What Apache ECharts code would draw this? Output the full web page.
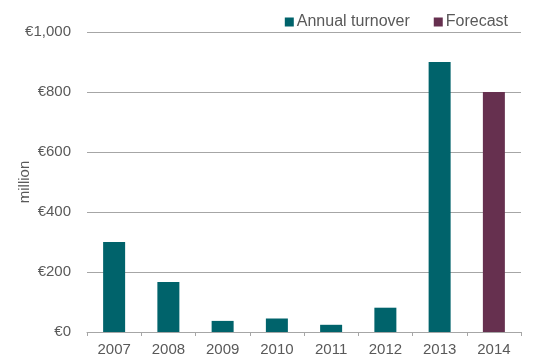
<!DOCTYPE html>
<html>
<head>
<meta charset="utf-8">
<script src="https://cdn.jsdelivr.net/npm/echarts@6/dist/echarts.min.js"></script>
<style>
  html, body { margin: 0; padding: 0; background: #fff; }
  #chart { width: 534px; height: 361px; }
</style>
</head>
<body>
<div id="chart"></div>
<script>
// Annual turnover (million €) by year, with a forecast for the last year
const years = ['2007', '2008', '2009', '2010', '2011', '2012', '2013', '2014'];
const turnover = [300, 167, 37, 45, 24, 81, 900, null];
const forecast = [null, null, null, null, null, null, null, 800];
const yTicks = [0, 200, 400, 600, 800, 1000];

const textColor = '#595959';
const fontFamily = '"Liberation Sans", Arial, Helvetica, sans-serif';

const chart = echarts.init(document.getElementById('chart'), null, { renderer: 'canvas' });
chart.setOption({
  animation: false,
  textStyle: { fontFamily: fontFamily, color: textColor },
  legend: {
    right: 21,
    top: 9,
    itemWidth: 9,
    itemHeight: 9,
    itemGap: 24,
    icon: 'rect',
    textStyle: { fontSize: 16, color: textColor, fontFamily: fontFamily, padding: [0, 0, 0, -2] },
    data: ['Annual turnover', 'Forecast']
  },
  grid: { left: 87, right: 13, top: 32, bottom: 29, containLabel: false, outerBoundsMode: 'none' },
  xAxis: {
    type: 'category',
    data: years,
    axisLine: { lineStyle: { color: '#A6A6A6', width: 1 } },
    axisTick: { show: true, alignWithLabel: false, length: 4, lineStyle: { color: '#A6A6A6' } },
    axisLabel: { color: textColor, fontSize: 15, margin: 10, fontFamily: fontFamily }
  },
  yAxis: {
    type: 'value',
    min: yTicks[0],
    max: yTicks[yTicks.length - 1],
    interval: 200,
    name: 'million',
    nameLocation: 'middle',
    nameRotate: 90,
    nameGap: 55,
    nameMoveOverlap: false,
    nameTextStyle: { color: textColor, fontSize: 15, fontFamily: fontFamily },
    axisLine: { show: false },
    axisTick: { show: false },
    splitLine: { lineStyle: { color: '#A6A6A6', width: 1 } },
    axisLabel: {
      color: textColor,
      fontSize: 15,
      margin: 16,
      fontFamily: fontFamily,
      formatter: v => '€' + v.toLocaleString('en-US')
    }
  },
  series: [
    {
      name: 'Annual turnover',
      type: 'bar',
      data: turnover,
      barWidth: 22,
      barGap: '-100%',
      itemStyle: { color: '#00636B' }
    },
    {
      name: 'Forecast',
      type: 'bar',
      data: forecast,
      barWidth: 22,
      itemStyle: { color: '#66304F' }
    }
  ]
});
</script>
</body>
</html>
